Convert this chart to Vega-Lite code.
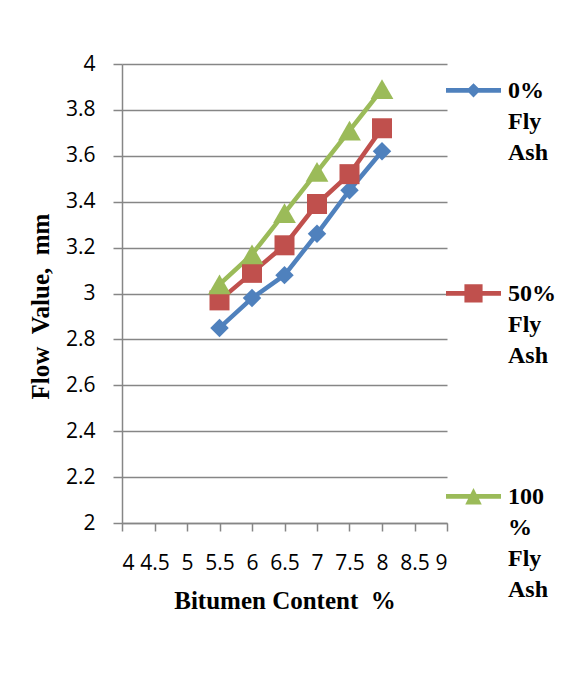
{
  "$schema": "https://vega.github.io/schema/vega-lite/v6.json",
  "autosize": "none",
  "width": 325,
  "height": 459,
  "padding": {"left": 122, "top": 64, "right": 126, "bottom": 160},
  "background": "white",
  "data": {
    "values": [
      {"bc": 5.5, "fv": 2.85, "series": "0% Fly Ash"},
      {"bc": 6.0, "fv": 2.98, "series": "0% Fly Ash"},
      {"bc": 6.5, "fv": 3.08, "series": "0% Fly Ash"},
      {"bc": 7.0, "fv": 3.26, "series": "0% Fly Ash"},
      {"bc": 7.5, "fv": 3.45, "series": "0% Fly Ash"},
      {"bc": 8.0, "fv": 3.62, "series": "0% Fly Ash"},
      {"bc": 5.5, "fv": 2.97, "series": "50% Fly Ash"},
      {"bc": 6.0, "fv": 3.09, "series": "50% Fly Ash"},
      {"bc": 6.5, "fv": 3.21, "series": "50% Fly Ash"},
      {"bc": 7.0, "fv": 3.39, "series": "50% Fly Ash"},
      {"bc": 7.5, "fv": 3.52, "series": "50% Fly Ash"},
      {"bc": 8.0, "fv": 3.72, "series": "50% Fly Ash"},
      {"bc": 5.5, "fv": 3.04, "series": "100% Fly Ash"},
      {"bc": 6.0, "fv": 3.17, "series": "100% Fly Ash"},
      {"bc": 6.5, "fv": 3.35, "series": "100% Fly Ash"},
      {"bc": 7.0, "fv": 3.53, "series": "100% Fly Ash"},
      {"bc": 7.5, "fv": 3.71, "series": "100% Fly Ash"},
      {"bc": 8.0, "fv": 3.89, "series": "100% Fly Ash"}
    ]
  },
  "encoding": {
    "x": {
      "field": "bc",
      "type": "quantitative",
      "title": "Bitumen Content \u00a0%",
      "scale": {"domain": [4, 9], "nice": false, "zero": false},
      "axis": {
        "values": [4, 4.5, 5, 5.5, 6, 6.5, 7, 7.5, 8, 8.5, 9],
        "format": "~r",
        "grid": false,
        "tickSize": 8,
        "labelPadding": 21,
        "titlePadding": 15
      }
    },
    "y": {
      "field": "fv",
      "type": "quantitative",
      "title": "Flow \u00a0Value, \u00a0mm",
      "scale": {"domain": [2, 4], "nice": false, "zero": false},
      "axis": {
        "values": [2, 2.2, 2.4, 2.6, 2.8, 3, 3.2, 3.4, 3.6, 3.8, 4],
        "format": "~r",
        "grid": true,
        "tickSize": 9,
        "labelPadding": 18,
        "titlePadding": 12,
        "titleY": 242
      }
    }
  },
  "layer": [
    {
      "mark": {"type": "line", "strokeWidth": 4.5, "strokeCap": "round", "strokeJoin": "round"},
      "encoding": {
        "order": {"field": "bc"},
        "stroke": {
          "field": "series",
          "type": "nominal",
          "scale": {
            "domain": ["0% Fly Ash", "50% Fly Ash", "100% Fly Ash"],
            "range": ["#4F81BD", "#C0504D", "#9BBB59"]
          },
          "legend": {
            "orient": "none",
            "legendX": 324,
            "legendY": 6.5,
            "title": null,
            "padding": 0,
            "symbolSize": 3025,
            "symbolStrokeWidth": 0,
            "rowPadding": 108,
            "labelOffset": 7,
            "labelFont": "Liberation Serif",
            "labelFontWeight": "bold",
            "labelFontSize": 24,
            "labelColor": "black",
            "labelBaseline": "alphabetic",
            "labelLimit": 200,
            "labelExpr": "datum.label === '100% Fly Ash' ? ['100', '%', 'Fly', 'Ash'] : split(datum.label, ' ')",
            "encode": {
              "symbols": {
                "update": {
                  "shape": {"signal": "datum.value === '0% Fly Ash' ? 'M-1,-0.365H1V-0.195H-1Z M-0.26,-0.28L0,-0.54L0.26,-0.28L0,-0.02Z' : datum.value === '50% Fly Ash' ? 'M-1,-0.365H1V-0.195H-1Z M-0.33,-0.61H0.33V0.05H-0.33Z' : 'M-1,-0.365H1V-0.195H-1Z M0,-0.58L0.3,0.02L-0.3,0.02Z'"},
                  "size": {"value": 3025},
                  "fill": {"signal": "scale('stroke', datum.value)"},
                  "fillOpacity": {"value": 1},
                  "strokeWidth": {"value": 0}
                }
              },
              "labels": {
                "update": {"lineHeight": {"value": 31}}
              }
            }
          }
        }
      }
    },
    {
      "transform": [{"filter": "datum.series === '0% Fly Ash'"}],
      "mark": {"type": "point", "shape": "diamond", "size": 340, "filled": true, "opacity": 1, "color": "#4F81BD"}
    },
    {
      "transform": [{"filter": "datum.series === '50% Fly Ash'"}],
      "mark": {"type": "point", "shape": "square", "size": 400, "filled": true, "opacity": 1, "color": "#C0504D"}
    },
    {
      "transform": [{"filter": "datum.series === '100% Fly Ash'"}],
      "mark": {"type": "point", "shape": "triangle-up", "size": 520, "filled": true, "opacity": 1, "color": "#9BBB59"}
    }
  ],
  "config": {
    "view": {"stroke": null},
    "axis": {
      "domainColor": "#868686",
      "domainWidth": 1.5,
      "tickColor": "#868686",
      "tickWidth": 1.5,
      "gridColor": "#868686",
      "gridWidth": 1.5,
      "labelFont": "Open Sans",
      "labelFontSize": 21,
      "labelColor": "black",
      "titleFont": "Liberation Serif",
      "titleFontWeight": "bold",
      "titleFontSize": 25,
      "titleColor": "black"
    }
  }
}
